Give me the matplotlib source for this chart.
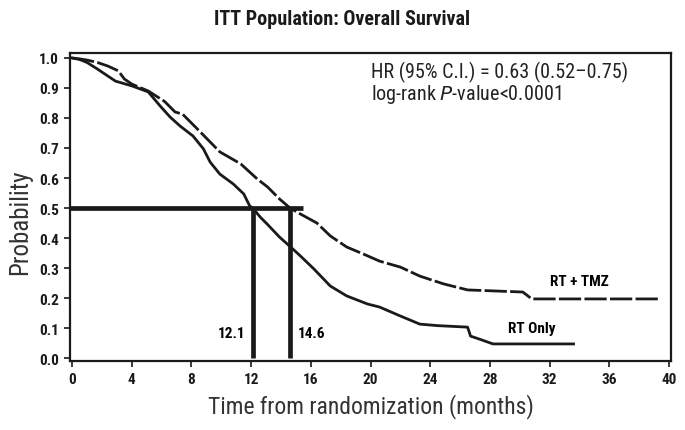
import matplotlib
matplotlib.use("Agg")
import matplotlib.pyplot as plt

# Kaplan-Meier curves
rt_only_months = [0, 0.5, 1.0, 1.7, 2.9, 4.0, 5.1, 5.9, 6.57, 7.24, 8.1, 8.8, 9.25,
                  9.9, 10.8, 11.5, 11.9, 12.1, 12.6, 13.1, 13.9, 14.8, 15.3,
                  16.2, 17.3, 18.4, 19.8, 20.6, 22.0, 23.3, 24.5, 26.5, 26.7,
                  27.3, 28.2, 33.6]
rt_only_surv = [1.0, 0.995, 0.985, 0.963, 0.923, 0.907, 0.887, 0.84, 0.803, 0.773,
                0.74, 0.697, 0.653, 0.613, 0.58, 0.547, 0.507, 0.5, 0.47, 0.445,
                0.403, 0.363, 0.34, 0.297, 0.24, 0.207, 0.18, 0.17, 0.14, 0.113,
                0.108, 0.103, 0.073, 0.063, 0.047, 0.047]

tmz_months = [0, 0.5, 1.0, 1.7, 2.4, 3.1, 3.5, 4.0, 5.1, 6.2, 6.9, 7.4, 8.6, 9.9,
              11.3, 12.4, 13.1, 13.9, 14.6, 15.3, 16.4, 17.3, 18.4, 19.5, 20.6,
              22.0, 23.3, 24.9, 26.5, 30.2, 30.8, 39.4]
tmz_surv = [1.0, 0.997, 0.993, 0.985, 0.973, 0.957, 0.93, 0.913, 0.89, 0.855, 0.82,
            0.813, 0.753, 0.687, 0.647, 0.597, 0.57, 0.53, 0.5, 0.48, 0.45,
            0.407, 0.37, 0.347, 0.323, 0.303, 0.273, 0.247, 0.227, 0.22,
            0.197, 0.197]

median_months = [12.1, 14.6]
median_labels = ["12.1", "14.6"]

x_ticks = list(range(0, 41, 4))
y_ticks = [i / 10 for i in range(0, 11)]

narrow = ["Liberation Sans Narrow", "Roboto Condensed", "Archivo Narrow", "DejaVu Sans"]
ink = "#1a1a1a"

fig = plt.figure(figsize=(6.85, 4.31), dpi=100)
ax = fig.add_axes([0.102, 0.160, 0.878, 0.715])

# survival curves
ax.plot(rt_only_months, rt_only_surv, color=ink, lw=2.0)
ax.plot(tmz_months, tmz_surv, color=ink, lw=2.0, dashes=[8, 1.2])

# median lines
ax.plot([-0.2, 15.5], [0.5, 0.5], color=ink, lw=3.4, solid_capstyle="butt")
for m in median_months:
    ax.plot([m, m], [0, 0.5], color=ink, lw=3.4, solid_capstyle="butt")

ax.text(median_months[0] - 0.5, 0.085, median_labels[0], ha="right", va="center",
        family=narrow, fontweight="bold", fontsize=11)
ax.text(median_months[1] + 0.5, 0.085, median_labels[1], ha="left", va="center",
        family=narrow, fontweight="bold", fontsize=11)

ax.text(34.0, 0.257, "RT + TMZ", ha="center", va="center",
        family=narrow, fontweight="bold", fontsize=11)
ax.text(30.8, 0.10, "RT Only", ha="center", va="center",
        family=narrow, fontweight="bold", fontsize=11)

ax.text(20.0, 0.955, "HR (95% C.I.) = 0.63 (0.52\u20130.75)", ha="left", va="center",
        family=narrow, fontsize=14.5, color="#222222")
ax.text(20.0, 0.88, "log-rank $\\it{P}$-value<0.0001", ha="left", va="center",
        family=narrow, fontsize=14.5, color="#222222")

ax.set_xlim(-0.15, 40.15)
ax.set_ylim(-0.01, 1.017)
ax.set_xticks(x_ticks)
ax.set_yticks(y_ticks)
ax.set_xticklabels([str(t) for t in x_ticks], family=narrow, fontweight="bold", fontsize=11)
ax.set_yticklabels([f"{t:.1f}" for t in y_ticks], family=narrow, fontweight="bold", fontsize=11)
ax.tick_params(direction="out", length=4, width=1.2, pad=4, colors=ink)
for s in ax.spines.values():
    s.set_linewidth(1.6)
    s.set_color(ink)

ax.set_xlabel("Time from randomization (months)", family=narrow, fontsize=17,
              color="#333333", labelpad=5)
ax.set_ylabel("Probability", family=narrow, fontsize=18, color="#333333")
ax.yaxis.set_label_coords(-0.063, 0.455)
fig.text(0.5, 0.955, "ITT Population: Overall Survival", ha="center", va="center",
         family=narrow, fontweight="bold", fontsize=14.5, color=ink)

fig.savefig("out.png", dpi=100)
